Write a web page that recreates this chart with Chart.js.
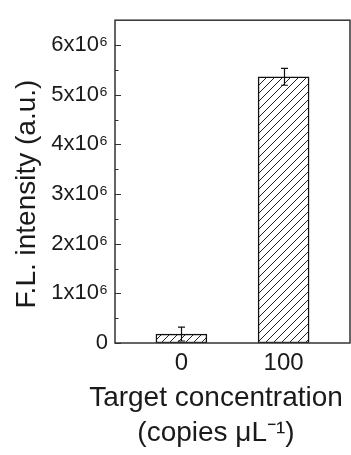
<!DOCTYPE html>
<html><head><meta charset="utf-8">
<script src="https://cdn.jsdelivr.net/npm/chart.js@4/dist/chart.umd.min.js"></script>
<style>html,body{margin:0;padding:0;background:#fff}#wrap{width:351px;height:455px}</style>
</head><body><div id="wrap"><canvas id="c" width="351" height="455"></canvas></div>
<script>
// ---- data ----
const categories = ['0', '100'];
const intensity = [0.18e6, 5.36e6];
const errors = [0.14e6, 0.17e6];
const yTickValues = [0, 1e6, 2e6, 3e6, 4e6, 5e6, 6e6];
const yTickLabels = ['0', '1x10\u2076', '2x10\u2076', '3x10\u2076', '4x10\u2076', '5x10\u2076', '6x10\u2076'];
const yMinorTicks = [0.5e6, 1.5e6, 2.5e6, 3.5e6, 4.5e6, 5.5e6];
const xTitleLines = ['Target concentration', '(copies \u03BCL\u207B\u00B9)'];
const yTitle = 'F.L. intensity (a.u.)';

const FONT = "'Liberation Sans', Arial, sans-serif";
const INK = '#1a1a1a';

function hatch() {
  const s = 8;
  const c = document.createElement('canvas');
  c.width = s; c.height = s;
  const g = c.getContext('2d');
  g.fillStyle = '#fff'; g.fillRect(0, 0, s, s);
  g.strokeStyle = '#222'; g.lineWidth = 1;
  g.beginPath();
  g.moveTo(0, s); g.lineTo(s, 0);
  g.moveTo(-2, 2); g.lineTo(2, -2);
  g.moveTo(s - 2, s + 2); g.lineTo(s + 2, s - 2);
  g.stroke();
  return g.createPattern(c, 'repeat');
}

const deco = {
  id: 'deco',
  afterDatasetsDraw(chart) {
    const { ctx, chartArea: a, scales } = chart;
    const y = scales.y;
    const meta = chart.getDatasetMeta(0);
    ctx.save();
    // error bars
    ctx.strokeStyle = '#111'; ctx.lineWidth = 1.2;
    meta.data.forEach((bar, i) => {
      const yt = y.getPixelForValue(intensity[i] + errors[i]);
      const yb = y.getPixelForValue(intensity[i] - errors[i]);
      const x = Math.round(bar.x) + 0.5;
      ctx.beginPath();
      ctx.moveTo(x, yt); ctx.lineTo(x, yb);
      ctx.moveTo(x - 3.5, yt); ctx.lineTo(x + 3.5, yt);
      ctx.moveTo(x - 3.5, yb); ctx.lineTo(x + 3.5, yb);
      ctx.stroke();
    });
    // frame
    ctx.strokeStyle = '#333'; ctx.lineWidth = 1.5;
    ctx.strokeRect(a.left, a.top, a.right - a.left, a.bottom - a.top);
    // inward y ticks
    ctx.lineWidth = 1.2;
    ctx.beginPath();
    yTickValues.forEach(v => {
      const p = Math.round(y.getPixelForValue(v)) + 0.5;
      ctx.moveTo(a.left, p); ctx.lineTo(a.left + 6, p);
    });
    yMinorTicks.forEach(v => {
      const p = Math.round(y.getPixelForValue(v)) + 0.5;
      ctx.moveTo(a.left, p); ctx.lineTo(a.left + 3.5, p);
    });
    ctx.stroke();
    ctx.restore();
  },
  afterDraw(chart) {
    const { ctx } = chart;
    ctx.save();
    ctx.fillStyle = INK;
    ctx.font = '28px ' + FONT;
    ctx.textAlign = 'center';
    ctx.textBaseline = 'alphabetic';
    ctx.fillText(xTitleLines[0], 216, 406);
    ctx.fillText(xTitleLines[1], 216, 441);
    ctx.translate(35, 194);
    ctx.rotate(-Math.PI / 2);
    ctx.fillText(yTitle, 0, 0);
    ctx.restore();
  }
};

new Chart(document.getElementById('c'), {
  type: 'bar',
  data: {
    datasets: [{
      data: categories.map((c, i) => ({ x: i, y: intensity[i] })),
      backgroundColor: hatch(),
      borderColor: '#111',
      borderWidth: 1.5,
      borderSkipped: false,
      barThickness: 51
    }]
  },
  options: {
    responsive: false,
    devicePixelRatio: 1,
    animation: false,
    layout: { padding: { top: 15, right: 1, left: 0, bottom: 0 } },
    plugins: { legend: { display: false }, tooltip: { enabled: false } },
    scales: {
      x: {
        type: 'linear', min: -0.65, max: 1.65, offset: false,
        afterBuildTicks: s => { s.ticks = categories.map((c, i) => ({ value: i })); },
        afterFit: s => { s.height = 112; },
        ticks: { callback: v => categories[v], font: { family: FONT, size: 24 }, color: INK, padding: 6, maxRotation: 0 },
        grid: { display: false, drawTicks: false, offset: false },
        border: { display: false }
      },
      y: {
        min: 0, max: 6.5e6,
        afterBuildTicks: s => { s.ticks = yTickValues.map(v => ({ value: v })); },
        afterFit: s => { s.width = 115; },
        ticks: { callback: (v, i) => yTickLabels[i], font: { family: FONT, size: 22 }, color: INK, padding: 7 },
        grid: { display: false, drawTicks: false },
        border: { display: false }
      }
    }
  },
  plugins: [deco]
});
</script></body></html>
